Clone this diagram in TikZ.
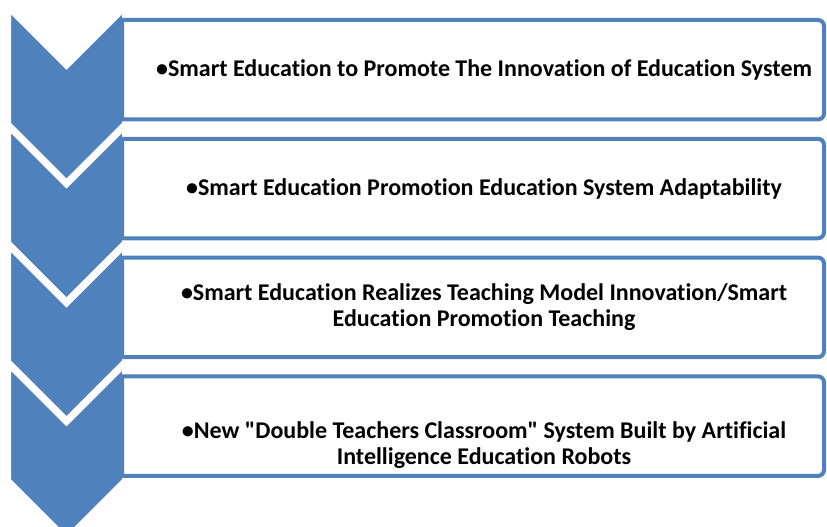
\documentclass[tikz,border=0pt]{standalone}
\usepackage{fontspec}
\setmainfont{Carlito}[Ligatures=NoCommon]
\usepackage{tikz}
\usetikzlibrary{positioning}
\definecolor{chevblue}{RGB}{79, 129, 189}

\begin{document}
\begin{tikzpicture}[
  x=1pt, y=1pt,
  node distance  = 19.3pt,
  box/.style     = {rectangle, minimum width=680pt, minimum height=99.5pt, inner sep=0pt,
                    outer sep=0pt, align=center, font=\fontsize{24}{26}\selectfont\bfseries},
  chevron/.style = {fill=chevblue, draw=white, line width=7pt, line join=miter},
  frame/.style   = {draw=chevblue, line width=4pt}
]
\useasboundingbox (0,0) rectangle (827,527);

\node[box, anchor=north west] (b1) at (144,507) {•Smart Education to Promote The Innovation of Education System};
\node[box] (b2) [below=of b1] {•Smart Education Promotion Education System Adaptability};
\node[box] (b3) [below=of b2] {•Smart Education Realizes Teaching Model Innovation/Smart\\Education Promotion Teaching};
\node[box] (b4) [below=of b3] {\rule{0pt}{54pt}•New \textquotedbl Double Teachers Classroom\textquotedbl{} System Built by Artificial\\Intelligence Education Robots};

% chevrons down the left side, each one over the one above
\foreach \i in {1,...,4}
  \draw[chevron, shift={([xshift=-22pt]b\i.north west)}]
    (-114.5,14) -- (-55.5,-45) -- (3.5,14) -- (3.5,-104.5)
    -- (-55.5,-163.5) -- (-114.5,-104.5) -- cycle;

% frames, square on the left, rounded on the right
\foreach \i in {1,...,4}
  \draw[frame] ([xshift=-22pt]b\i.south west) -- ([xshift=-22pt]b\i.north west)
    -- ([xshift=-6pt]b\i.north east) arc[start angle=90, end angle=0, radius=6pt]
    -- ([yshift=6pt]b\i.south east) arc[start angle=0, end angle=-90, radius=6pt] -- cycle;

\end{tikzpicture}
\end{document}
